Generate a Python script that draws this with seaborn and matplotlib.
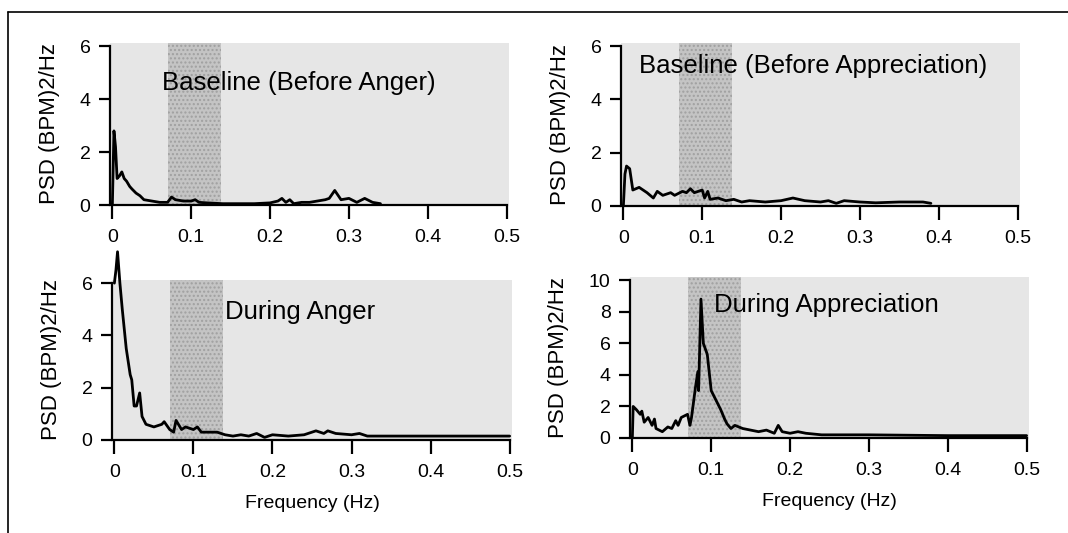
import numpy as np
import pandas as pd
import matplotlib
matplotlib.use("Agg")
import matplotlib.pyplot as plt
from matplotlib.lines import Line2D
import seaborn as sns

# --- data ---
freq_before_anger = [0, 0.002, 0.004, 0.006, 0.009, 0.012, 0.015, 0.018, 0.022, 0.025, 0.03, 0.035,
                     0.04, 0.05, 0.06, 0.07, 0.075, 0.08, 0.09, 0.1, 0.105, 0.11, 0.12, 0.14, 0.16,
                     0.18, 0.2, 0.21, 0.215, 0.22, 0.225, 0.23, 0.24, 0.25, 0.26, 0.27, 0.275, 0.282,
                     0.29, 0.3, 0.31, 0.32, 0.33, 0.34]
psd_before_anger = [0, 2.8, 2.2, 1.0, 1.1, 1.25, 1.0, 0.9, 0.7, 0.6, 0.45, 0.35,
                    0.2, 0.15, 0.1, 0.1, 0.3, 0.2, 0.15, 0.15, 0.2, 0.1, 0.08, 0.05, 0.05,
                    0.05, 0.08, 0.15, 0.25, 0.1, 0.2, 0.05, 0.1, 0.1, 0.15, 0.2, 0.25, 0.55,
                    0.2, 0.25, 0.1, 0.25, 0.1, 0.05]

freq_before_appr = [0, 0.002, 0.004, 0.008, 0.012, 0.02, 0.03, 0.038, 0.043, 0.05, 0.06, 0.065,
                    0.075, 0.08, 0.085, 0.09, 0.1, 0.103, 0.107, 0.11, 0.12, 0.13, 0.14, 0.15,
                    0.16, 0.18, 0.2, 0.215, 0.23, 0.25, 0.26, 0.27, 0.28, 0.3, 0.32, 0.35, 0.38, 0.39]
psd_before_appr = [0, 1.2, 1.5, 1.4, 0.6, 0.7, 0.5, 0.3, 0.55, 0.4, 0.5, 0.4,
                   0.55, 0.5, 0.65, 0.5, 0.6, 0.3, 0.55, 0.25, 0.3, 0.2, 0.25, 0.15,
                   0.2, 0.15, 0.2, 0.3, 0.2, 0.15, 0.2, 0.1, 0.2, 0.15, 0.12, 0.15, 0.15, 0.1]

freq_anger = [0, 0.002, 0.004, 0.007, 0.01, 0.015, 0.02, 0.022, 0.025, 0.028, 0.032, 0.035,
              0.04, 0.05, 0.06, 0.063, 0.07, 0.075, 0.078, 0.085, 0.09, 0.1, 0.105, 0.11,
              0.13, 0.14, 0.15, 0.16, 0.17, 0.18, 0.19, 0.2, 0.22, 0.24, 0.255, 0.265, 0.27,
              0.28, 0.3, 0.31, 0.32, 0.35, 0.4, 0.45, 0.5]
psd_anger = [6.0, 6.5, 7.2, 6.0, 5.0, 3.5, 2.5, 2.3, 1.3, 1.3, 1.8, 0.9,
             0.6, 0.5, 0.6, 0.7, 0.4, 0.3, 0.75, 0.4, 0.5, 0.4, 0.5, 0.3,
             0.3, 0.2, 0.15, 0.2, 0.15, 0.25, 0.1, 0.2, 0.15, 0.2, 0.35, 0.25, 0.35,
             0.25, 0.2, 0.25, 0.15, 0.15, 0.15, 0.15, 0.15]

freq_appr = [0, 0.001, 0.005, 0.01, 0.012, 0.015, 0.02, 0.025, 0.028, 0.03, 0.038, 0.045,
             0.05, 0.055, 0.058, 0.062, 0.07, 0.073, 0.075, 0.08, 0.083, 0.084, 0.087, 0.09,
             0.095, 0.1, 0.107, 0.112, 0.117, 0.12, 0.125, 0.13, 0.14, 0.15, 0.16, 0.17,
             0.18, 0.185, 0.19, 0.2, 0.21, 0.22, 0.24, 0.3, 0.4, 0.5]
psd_appr = [0, 2.0, 1.8, 1.5, 1.7, 1.0, 1.3, 0.8, 1.2, 0.6, 0.4, 0.7,
            0.6, 1.1, 0.8, 1.3, 1.5, 0.8, 1.3, 3.2, 4.2, 3.0, 8.8, 6.0,
            5.3, 3.0, 2.3, 1.8, 1.2, 0.9, 0.6, 0.8, 0.6, 0.5, 0.4, 0.5,
            0.3, 0.8, 0.4, 0.3, 0.4, 0.3, 0.2, 0.2, 0.15, 0.15]

titles = ["Baseline (Before Anger)", "Baseline (Before Appreciation)", "During Anger", "During Appreciation"]
band = (0.07, 0.138)

sns.set_style("ticks")
plt.rcParams['font.family'] = ['Liberation Sans', 'DejaVu Sans']
plt.rcParams.update({'text.color': 'black', 'axes.labelcolor': 'black',
                     'xtick.color': 'black', 'ytick.color': 'black',
                     'axes.edgecolor': 'black'})

fig = plt.figure(figsize=(10.68, 5.33), dpi=100)

W, H = 1068, 533
def place(x0, x1, ytop, ybot):
    return [x0 / W, 1 - ybot / H, (x1 - x0) / W, (ybot - ytop) / H]

panels = [
    (place(110, 509, 43, 205), freq_before_anger, psd_before_anger, 6, [0, 2, 4, 6], (0.063, 4.6), False),
    (place(621, 1020, 43, 206), freq_before_appr, psd_before_appr, 6, [0, 2, 4, 6], (0.02, 5.25), False),
    (place(112, 512, 280, 440), freq_anger, psd_anger, 6, [0, 2, 4, 6], (0.14, 4.9), True),
    (place(630, 1029, 277, 438), freq_appr, psd_appr, 10, [0, 2, 4, 6, 8, 10], (0.103, 8.45), True),
]

for i, (pos, f, p, ymax, yt, tpos, bottom) in enumerate(panels):
    ax = fig.add_axes(pos)
    ax.set_facecolor('#e6e6e6')
    ax.axvspan(band[0], band[1], facecolor='#c4c4c4', edgecolor='#a0a0a0',
               hatch='....', linewidth=0, zorder=1)
    df = pd.DataFrame({'freq': f, 'psd': p})
    sns.lineplot(data=df, x='freq', y='psd', ax=ax, color='black', linewidth=2.0,
                 zorder=3, clip_on=False)
    ax.set_xlim(-0.003, 0.503)
    ax.set_ylim(0, ymax * 1.02)
    ax.set_xticks([0, 0.1, 0.2, 0.3, 0.4, 0.5])
    ax.set_xticklabels(['0', '0.1', '0.2', '0.3', '0.4', '0.5'])
    ax.set_yticks(yt)
    ax.spines['top'].set_visible(False)
    ax.spines['right'].set_visible(False)
    ax.spines['left'].set_bounds(0, ymax)
    ax.spines['bottom'].set_bounds(0, 0.5)
    for s in ['left', 'bottom']:
        ax.spines[s].set_linewidth(1.6)
    ax.tick_params(axis='x', labelsize=14, width=1.6, length=10, direction='out', pad=7)
    ax.tick_params(axis='y', labelsize=14, width=1.6, length=8, direction='out', pad=6)
    ax.set_ylabel('PSD (BPM)2/Hz', fontsize=16, labelpad=14)
    if bottom:
        ax.set_xlabel('Frequency (Hz)', fontsize=14, labelpad=10)
    else:
        ax.set_xlabel('')
    ax.text(tpos[0], tpos[1], titles[i], fontsize=18.5, va='center', ha='left', zorder=4)

# page frame lines (top and left)
fig.add_artist(Line2D([8 / W, 1.0], [1 - 12 / H, 1 - 12 / H], color='black', linewidth=1.2))
fig.add_artist(Line2D([8 / W, 8 / W], [0, 1 - 12 / H], color='black', linewidth=1.2))

fig.savefig('out.png', dpi=100)
